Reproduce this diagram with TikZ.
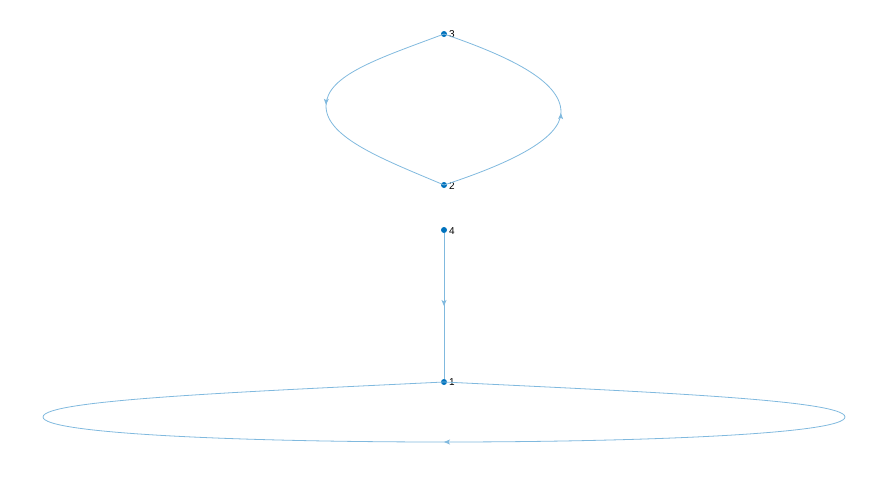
\documentclass[tikz,border=0pt]{standalone}
\usepackage{fontspec}
\setmainfont{Liberation Sans}
\usetikzlibrary{arrows.meta,decorations.markings}
\definecolor{nodeblue}{RGB}{0,114,189}
\definecolor{edgeblue}{RGB}{128,185,222}
\tikzset{
  vtx/.style={circle,fill=nodeblue,inner sep=0pt,minimum size=6pt},
  lbl/.style={font=\fontsize{10}{10}\selectfont,inner sep=0pt,anchor=west},
  edge/.style={draw=edgeblue,line width=0.8pt},
  midarrow/.style={postaction={decorate},decoration={markings,
     mark=at position #1 with {\arrow{Stealth[length=6pt,width=5pt,inset=1.5pt]}}}}
}
\begin{document}
\begin{tikzpicture}[x=1pt,y=-1pt]
\useasboundingbox (0,0) rectangle (876,485);
\node[vtx] (n3) at (444,34) {};
\node[vtx] (n2) at (444,185) {};
\node[vtx] (n4) at (444,230) {};
\node[vtx] (n1) at (444,382) {};
\node[lbl] (l3) at (449,34) {3};
\node[lbl] (l2) at (449,186) {2};
\node[lbl] (l4) at (449,231) {4};
\node[lbl] (l1) at (449,382) {1};
\coordinate (cl) at (326,106);
\coordinate (cr) at (561,112);
\coordinate (bl) at (43,417);
\coordinate (bb) at (444,442);
\coordinate (br) at (845,417);
% edge 3 -> 2 (left)
\draw[edge,midarrow=0.49] (n3.center) .. controls (380,58) and (326,75) .. (cl)
   .. controls (326,138) and (385,160) .. (n2.center);
% edge 2 -> 3 (right)
\draw[edge,midarrow=0.49] (n2.center) .. controls (505,165) and (561,140) .. (cr)
   .. controls (561,80) and (505,55) .. (n3.center);
% edge 4 -> 1
\draw[edge,midarrow=0.5] (n4) -- (n1);
% self loop at 1
\draw[edge,midarrow=0.5] (n1.center) .. controls (650,392) and (845,400) .. (br)
   .. controls (845,434) and (640,442) .. (bb)
   .. controls (248,442) and (43,434) .. (bl)
   .. controls (43,400) and (238,392) .. (n1.center);
\end{tikzpicture}
\end{document}
